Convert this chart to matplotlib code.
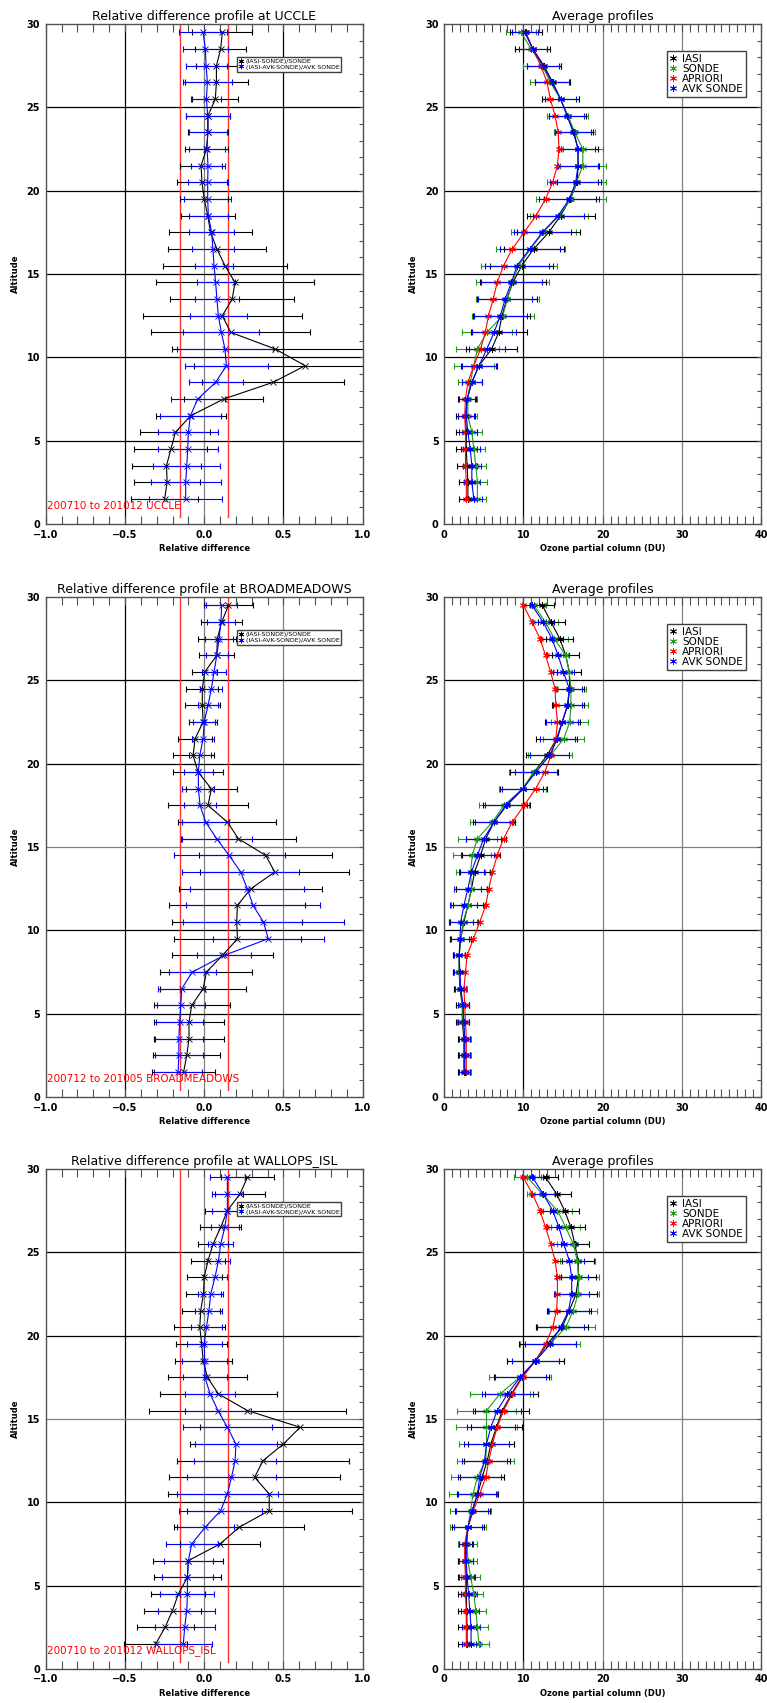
import matplotlib.pyplot as plt
from matplotlib.lines import Line2D
from matplotlib.ticker import MultipleLocator

plt.switch_backend('Agg')
plt.rcParams['font.family'] = ['DejaVu Sans']

# altitude levels (km), top to bottom
altitude = [29.5, 28.5, 27.5, 26.5, 25.5, 24.5, 23.5, 22.5, 21.5, 20.5,
            19.5, 18.5, 17.5, 16.5, 15.5, 14.5, 13.5, 12.5, 11.5, 10.5,
            9.5, 8.5, 7.5, 6.5, 5.5, 4.5, 3.5, 2.5, 1.5]

stations = ["UCCLE", "BROADMEADOWS", "WALLOPS_ISL"]
periods = ["200710 to 201012", "200712 to 201005", "200710 to 201012"]

# ---- relative differences: (IASI-SONDE)/SONDE and (IASI-AVK-SONDE)/AVK SONDE
rel_iasi_uccle = [0.114, 0.104, 0.077, 0.077, 0.07, 0.024, 0.024, 0.014, -0.02, -0.014,
                  0.0, 0.022, 0.04, 0.08, 0.131, 0.194, 0.177, 0.114, 0.167, 0.448,
                  0.637, 0.434, 0.123, -0.085, -0.182, -0.21, -0.238, -0.234, -0.25]
err_iasi_uccle = [0.19, 0.16, 0.13, 0.2, 0.145, 0.14, 0.125, 0.135, 0.134, 0.155,
                  0.15, 0.17, 0.26, 0.31, 0.39, 0.5, 0.39, 0.5, 0.5, 0.65,
                  0.7, 0.45, 0.25, 0.22, 0.22, 0.23, 0.215, 0.21, 0.21]
rel_avk_uccle = [-0.007, 0.007, 0.012, 0.02, 0.014, 0.022, 0.022, 0.018, 0.024, 0.022,
                 0.022, 0.026, 0.047, 0.055, 0.062, 0.072, 0.08, 0.089, 0.108, 0.131,
                 0.14, 0.072, -0.041, -0.087, -0.1, -0.104, -0.11, -0.117, -0.117]
err_avk_uccle = [0.15, 0.14, 0.13, 0.155, 0.095, 0.14, 0.12, 0.113, 0.11, 0.125,
                 0.15, 0.125, 0.14, 0.135, 0.12, 0.12, 0.14, 0.18, 0.24, 0.3,
                 0.26, 0.17, 0.17, 0.19, 0.19, 0.19, 0.21, 0.22, 0.23]

rel_iasi_broad = [0.153, 0.11, 0.083, 0.079, 0.003, -0.012, -0.012, -0.007, -0.058, -0.07,
                  -0.039, 0.045, 0.024, 0.146, 0.216, 0.388, 0.445, 0.294, 0.209, 0.205,
                  0.21, 0.115, 0.014, -0.007, -0.079, -0.096, -0.096, -0.11, -0.13]
err_iasi_broad = [0.155, 0.13, 0.12, 0.11, 0.08, 0.1, 0.11, 0.09, 0.11, 0.13,
                  0.16, 0.16, 0.25, 0.31, 0.36, 0.42, 0.47, 0.45, 0.43, 0.41,
                  0.4, 0.32, 0.29, 0.27, 0.24, 0.22, 0.22, 0.21, 0.2]
rel_avk_broad = [0.11, 0.105, 0.094, 0.079, 0.062, 0.045, 0.024, 0.0, -0.007, -0.028,
                 -0.037, -0.037, -0.026, 0.009, 0.079, 0.157, 0.23, 0.272, 0.308, 0.374,
                 0.404, 0.125, -0.075, -0.142, -0.148, -0.155, -0.16, -0.16, -0.165]
err_avk_broad = [0.1, 0.09, 0.09, 0.07, 0.075, 0.07, 0.065, 0.07, 0.07, 0.07,
                 0.09, 0.1, 0.1, 0.15, 0.22, 0.35, 0.37, 0.36, 0.42, 0.51,
                 0.35, 0.17, 0.15, 0.15, 0.15, 0.15, 0.15, 0.15, 0.15]

rel_iasi_wall = [0.273, 0.226, 0.146, 0.104, 0.056, 0.024, 0.0, -0.005, -0.022, -0.028,
                 -0.016, -0.007, 0.02, 0.09, 0.273, 0.605, 0.5, 0.371, 0.318, 0.41,
                 0.41, 0.22, 0.1, -0.1, -0.106, -0.163, -0.2, -0.247, -0.306]
err_iasi_wall = [0.17, 0.16, 0.14, 0.13, 0.095, 0.11, 0.11, 0.11, 0.12, 0.16,
                 0.16, 0.18, 0.25, 0.37, 0.62, 0.63, 0.59, 0.54, 0.54, 0.64,
                 0.52, 0.41, 0.25, 0.22, 0.21, 0.17, 0.18, 0.18, 0.2]
rel_avk_wall = [0.146, 0.146, 0.146, 0.13, 0.104, 0.09, 0.068, 0.041, 0.03, 0.014,
                0.0, 0.003, 0.005, 0.037, 0.087, 0.146, 0.2, 0.195, 0.172, 0.146,
                0.104, 0.006, -0.079, -0.1, -0.106, -0.106, -0.11, -0.123, -0.132]
err_avk_wall = [0.11, 0.1, 0.1, 0.09, 0.08, 0.075, 0.075, 0.08, 0.085, 0.1,
                0.11, 0.14, 0.14, 0.16, 0.21, 0.28, 0.26, 0.26, 0.28, 0.32,
                0.26, 0.18, 0.165, 0.155, 0.16, 0.17, 0.18, 0.19, 0.18]

# ---- average ozone partial columns (DU)
iasi_uccle = [10.3, 11.2, 12.6, 13.7, 14.7, 15.6, 16.4, 16.9, 16.9, 16.8,
              15.9, 14.7, 13.2, 11.3, 9.8, 8.7, 7.9, 7.3, 6.9, 6.0,
              4.4, 3.5, 2.9, 2.7, 2.8, 2.8, 2.9, 3.0, 3.0]
sonde_uccle = [9.7, 11.0, 12.4, 13.4, 14.7, 15.6, 16.5, 17.5, 17.5, 16.7,
               16.0, 14.5, 12.5, 10.9, 9.4, 8.6, 8.0, 7.4, 5.4, 4.2,
               3.75, 3.3, 3.0, 3.0, 3.5, 3.75, 4.0, 4.2, 4.2]
apriori_uccle = [10.2, 11.2, 12.2, 13.0, 13.4, 14.0, 14.4, 14.5, 14.3, 13.7,
                 12.8, 11.6, 10.1, 8.6, 7.5, 6.7, 6.2, 5.6, 5.2, 4.6,
                 3.75, 3.0, 2.7, 2.6, 2.7, 2.7, 2.7, 2.8, 2.8]
avk_uccle = [10.2, 11.2, 12.5, 13.6, 14.7, 15.5, 16.3, 16.9, 16.9, 16.6,
             15.8, 14.4, 12.4, 10.8, 9.2, 8.5, 7.7, 7.1, 6.3, 5.4,
             4.4, 3.5, 2.9, 2.8, 3.0, 3.3, 3.5, 3.5, 3.75]
iasi_err_uccle = [2.0, 2.2, 2.2, 2.2, 2.3, 2.3, 2.4, 2.5, 2.6, 2.6,
                  3.3, 4.3, 4.0, 3.8, 4.0, 4.2, 3.8, 3.6, 3.5, 3.2,
                  2.3, 1.3, 1.1, 1.2, 1.3, 1.3, 1.3, 1.1, 1.1]
sonde_err_uccle = [1.9, 2.0, 2.4, 2.5, 2.3, 2.6, 2.6, 2.5, 2.9, 3.7,
                   4.4, 3.6, 4.1, 4.4, 4.8, 4.6, 4.0, 3.9, 3.2, 2.7,
                   2.5, 1.5, 1.1, 1.2, 1.3, 1.4, 1.3, 1.2, 1.1]
avk_err_uccle = [1.6, 1.8, 2.0, 2.1, 2.0, 2.2, 2.3, 2.2, 2.5, 3.2,
                 3.8, 3.2, 3.6, 3.8, 4.0, 3.9, 3.4, 3.3, 2.8, 2.3,
                 2.1, 1.3, 1.0, 1.0, 1.1, 1.2, 1.1, 1.0, 1.0]

iasi_broad = [12.4, 13.5, 14.6, 15.35, 15.8, 15.85, 15.6, 14.9, 14.2, 13.0,
              11.35, 10.0, 7.9, 6.3, 5.25, 4.6, 3.85, 3.45, 3.0, 2.5,
              2.1, 1.9, 1.9, 2.0, 2.3, 2.3, 2.5, 2.5, 2.5]
sonde_broad = [11.3, 12.8, 13.9, 15.35, 15.8, 16.0, 16.0, 15.85, 15.1, 13.4,
               11.3, 9.9, 7.55, 6.1, 4.2, 3.55, 3.35, 3.45, 3.0, 2.4,
               2.1, 1.9, 1.9, 2.1, 2.3, 2.4, 2.6, 2.6, 2.6]
apriori_broad = [10.0, 11.1, 12.1, 12.8, 13.45, 14.0, 14.1, 14.3, 14.1, 13.5,
                 12.7, 11.55, 10.1, 8.6, 7.5, 6.7, 6.1, 5.65, 5.25, 4.5,
                 3.7, 2.9, 2.7, 2.5, 2.6, 2.7, 2.8, 2.8, 2.8]
avk_broad = [11.1, 12.5, 13.6, 14.4, 15.05, 15.8, 15.55, 14.9, 14.3, 13.3,
             11.6, 9.9, 7.8, 6.3, 5.0, 4.2, 3.45, 3.0, 2.5, 2.1,
             2.0, 1.9, 2.0, 2.1, 2.4, 2.5, 2.6, 2.6, 2.6]
iasi_err_broad = [1.5, 1.7, 1.7, 1.7, 1.5, 1.8, 2.0, 2.2, 2.6, 2.7,
                  3.0, 3.0, 3.0, 2.7, 2.5, 2.4, 1.9, 2.0, 1.9, 1.8,
                  1.3, 0.8, 0.8, 0.8, 0.8, 0.8, 0.8, 0.8, 0.8]
sonde_err_broad = [1.5, 1.6, 1.7, 1.7, 1.5, 1.9, 2.2, 2.3, 2.6, 2.8,
                   3.1, 3.0, 3.2, 2.8, 2.5, 2.4, 1.8, 2.0, 2.1, 1.8,
                   1.3, 0.8, 0.8, 0.8, 0.8, 0.8, 0.8, 0.8, 0.8]
avk_err_broad = [1.2, 1.4, 1.4, 1.4, 1.3, 1.6, 1.8, 2.0, 2.2, 2.4,
                 2.7, 2.6, 2.7, 2.4, 2.2, 2.1, 1.6, 1.7, 1.7, 1.5,
                 1.1, 0.7, 0.7, 0.7, 0.7, 0.7, 0.7, 0.7, 0.7]

iasi_wall = [12.8, 14.2, 15.2, 16.0, 16.5, 16.9, 16.95, 16.65, 15.8, 14.9,
             13.0, 11.5, 9.8, 8.5, 7.35, 6.6, 5.9, 5.45, 4.8, 4.25,
             3.55, 3.0, 2.7, 2.7, 2.8, 2.8, 2.85, 2.9, 2.9]
sonde_wall = [10.5, 12.4, 14.3, 15.35, 16.3, 16.8, 17.0, 16.9, 16.3, 15.35,
              13.4, 11.55, 9.55, 7.05, 5.35, 5.35, 5.35, 5.25, 4.2, 3.65,
              3.35, 3.0, 2.9, 3.0, 3.35, 3.75, 4.0, 4.2, 4.4]
apriori_wall = [10.0, 11.15, 12.1, 12.8, 13.45, 14.0, 14.3, 14.3, 14.2, 13.7,
                12.8, 11.55, 9.9, 8.6, 7.5, 6.7, 6.1, 5.65, 5.25, 4.5,
                3.7, 3.0, 2.6, 2.6, 2.7, 2.7, 2.8, 2.8, 2.8]
avk_wall = [11.15, 12.5, 13.7, 14.5, 15.1, 15.8, 16.1, 16.1, 15.7, 14.7,
            13.4, 11.55, 9.6, 8.0, 6.7, 5.9, 5.35, 5.1, 4.5, 4.2,
            3.55, 3.0, 2.8, 2.8, 2.9, 3.1, 3.25, 3.4, 3.4]
iasi_err_wall = [1.6, 1.8, 1.8, 1.8, 1.8, 2.0, 2.2, 2.6, 2.8, 3.3,
                 3.6, 3.6, 3.5, 3.3, 3.4, 3.2, 2.9, 2.9, 2.8, 2.6,
                 2.2, 2.0, 0.8, 0.9, 1.0, 1.1, 1.1, 1.1, 1.1]
sonde_err_wall = [1.7, 1.9, 1.8, 1.8, 2.0, 2.2, 2.5, 2.7, 3.0, 3.7,
                  3.8, 3.6, 3.9, 3.8, 3.7, 3.8, 3.5, 3.6, 3.3, 3.0,
                  2.6, 2.3, 1.2, 1.2, 1.2, 1.2, 1.3, 1.3, 1.3]
avk_err_wall = [1.3, 1.5, 1.5, 1.5, 1.6, 1.8, 2.0, 2.2, 2.6, 3.0,
                3.2, 3.0, 3.2, 3.2, 3.0, 3.0, 2.8, 2.9, 2.7, 2.4,
                2.0, 1.8, 0.9, 0.9, 1.0, 1.0, 1.1, 1.1, 1.1]

GREEN = '#1f9a1f'
LEFT_X, RIGHT_X, AX_W, AX_H = 0.0596, 0.579, 0.4133, 0.2936
BOTTOMS = [0.6923, 0.3558, 0.0200]


def style_common(ax):
    for s in ax.spines.values():
        s.set_color('#505050')
        s.set_linewidth(1.0)
    ax.set_ylim(0, 30)
    ax.set_yticks([0, 5, 10, 15, 20, 25, 30],
                  labels=['0', '5', '10', '15', '20', '25', '30'],
                  fontsize=7, fontweight='bold')
    ax.yaxis.set_minor_locator(MultipleLocator(1))
    ax.tick_params(axis='y', which='both', left=False, right=True,
                   direction='in', length=3, width=0.8, color='#505050', pad=4)
    ax.tick_params(axis='x', which='both', top=True, bottom=True,
                   direction='in', length=6, width=0.8, color='#505050', pad=4)
    ax.set_ylabel('Altitude', fontsize=6, fontweight='bold', labelpad=5)


def hgrid(ax, gray15):
    for y in [5, 10, 15, 20, 25]:
        c = '#808080' if (y == 15 and gray15) else 'black'
        ax.axhline(y, color=c, lw=0.9, zorder=1)


def draw_rel(ax, station, period, iasi, iasi_err, avk, avk_err, gray_half, gray15):
    style_common(ax)
    ax.set_xlim(-1, 1)
    ax.set_xticks([-1, -0.5, 0, 0.5, 1],
                  labels=['\u22121.0', '\u22120.5', '0.0', '0.5', '1.0'],
                  fontsize=7, fontweight='bold')
    ax.xaxis.set_minor_locator(MultipleLocator(0.1))
    ax.axvline(-0.5, color='black', lw=0.9, zorder=1)
    ax.axvline(0.0, color='#808080', lw=0.9, zorder=1)
    ax.axvline(0.5, color='#808080' if gray_half else 'black', lw=0.9, zorder=1)
    hgrid(ax, gray15)
    ax.plot([-0.15, -0.15], [0.4, 30], color='#ff3030', lw=1.0, zorder=2)
    ax.plot([0.15, 0.15], [0.4, 30], color='#ff3030', lw=1.0, zorder=2)

    ax.errorbar(iasi, altitude, xerr=iasi_err, fmt='none', ecolor='black',
                elinewidth=0.8, capsize=2.5, capthick=0.8, zorder=3)
    ax.plot(iasi, altitude, color='black', lw=0.8, marker='x', ms=4, mew=0.6, zorder=4)
    ax.errorbar(avk, altitude, xerr=avk_err, fmt='none', ecolor='#0000ff',
                elinewidth=0.8, capsize=2.5, capthick=0.8, zorder=5)
    ax.plot(avk, altitude, color='#0000ff', lw=0.8, marker='x', ms=4, mew=0.6, zorder=6)

    ax.set_title('Relative difference profile at ' + station, fontsize=9, pad=3)
    ax.set_xlabel('Relative difference', fontsize=6, fontweight='bold', labelpad=3)
    ax.text(-0.995, 1.1, period + ' ' + station, color='red', fontsize=7.5,
            ha='left', va='center', zorder=7)

    handles = [Line2D([], [], ls='none', marker=(6, 2, 0), color='black', ms=4, mew=0.6),
               Line2D([], [], ls='none', marker=(6, 2, 0), color='#0000ff', ms=4, mew=0.6)]
    ax.legend(handles, ['(IASI-SONDE)/SONDE', '(IASI-AVK-SONDE)/AVK SONDE'],
              loc='upper left', bbox_to_anchor=(0.603, 0.934), borderaxespad=0,
              fontsize=4.5, frameon=True, fancybox=False, edgecolor='#404040',
              framealpha=1, borderpad=0.3, labelspacing=0.0, handlelength=0.6,
              handletextpad=0.5)


def draw_avg(ax, iasi, sonde, apriori, avk, iasi_err, sonde_err, avk_err, gray15):
    style_common(ax)
    ax.set_xlim(0, 40)
    ax.set_xticks([0, 10, 20, 30, 40], labels=['0', '10', '20', '30', '40'],
                  fontsize=7, fontweight='bold')
    ax.xaxis.set_minor_locator(MultipleLocator(1))
    ax.axvline(10, color='black', lw=0.9, zorder=1)
    ax.axvline(20, color='#808080', lw=0.9, zorder=1)
    ax.axvline(30, color='#808080', lw=0.9, zorder=1)
    hgrid(ax, gray15)

    mk = dict(marker=(6, 2, 0), ms=5, mew=0.6, lw=0.8)
    eb = dict(fmt='none', elinewidth=0.8, capsize=2.5, capthick=0.8)
    ax.errorbar(sonde, altitude, xerr=sonde_err, ecolor=GREEN, zorder=3, **eb)
    ax.errorbar(iasi, altitude, xerr=iasi_err, ecolor='black', zorder=3, **eb)
    ax.errorbar(avk, altitude, xerr=avk_err, ecolor='#0000ff', zorder=3, **eb)
    ax.plot(iasi, altitude, color='black', zorder=4, **mk)
    ax.plot(sonde, altitude, color=GREEN, zorder=4, **mk)
    ax.plot(apriori, altitude, color='#ff0000', zorder=4, **mk)
    ax.plot(avk, altitude, color='#0000ff', zorder=5, **mk)

    ax.set_title('Average profiles', fontsize=9, pad=3)
    ax.set_xlabel('Ozone partial column (DU)', fontsize=6, fontweight='bold', labelpad=3)

    cols = ['black', GREEN, '#ff0000', '#0000ff']
    handles = [Line2D([], [], ls='none', marker=(6, 2, 0), color=c, ms=5, mew=0.6)
               for c in cols]
    ax.legend(handles, ['IASI', 'SONDE', 'APRIORI', 'AVK SONDE'],
              loc='upper left', bbox_to_anchor=(0.7025, 0.9466), borderaxespad=0,
              fontsize=7.5, frameon=True, fancybox=False, edgecolor='#404040',
              framealpha=1, borderpad=0.3, labelspacing=0.0, handlelength=0.6,
              handletextpad=0.6)


fig = plt.figure(figsize=(7.67, 17.03), dpi=100)

rel_sets = [
    (rel_iasi_uccle, err_iasi_uccle, rel_avk_uccle, err_avk_uccle, False, False),
    (rel_iasi_broad, err_iasi_broad, rel_avk_broad, err_avk_broad, True, True),
    (rel_iasi_wall, err_iasi_wall, rel_avk_wall, err_avk_wall, True, True),
]
avg_sets = [
    (iasi_uccle, sonde_uccle, apriori_uccle, avk_uccle,
     iasi_err_uccle, sonde_err_uccle, avk_err_uccle, False),
    (iasi_broad, sonde_broad, apriori_broad, avk_broad,
     iasi_err_broad, sonde_err_broad, avk_err_broad, True),
    (iasi_wall, sonde_wall, apriori_wall, avk_wall,
     iasi_err_wall, sonde_err_wall, avk_err_wall, True),
]

for i in range(3):
    axl = fig.add_axes([LEFT_X, BOTTOMS[i], AX_W, AX_H])
    r = rel_sets[i]
    draw_rel(axl, stations[i], periods[i], r[0], r[1], r[2], r[3], r[4], r[5])
    axr = fig.add_axes([RIGHT_X, BOTTOMS[i], AX_W, AX_H])
    a = avg_sets[i]
    draw_avg(axr, *a)

fig.savefig('out.png', dpi=100)
